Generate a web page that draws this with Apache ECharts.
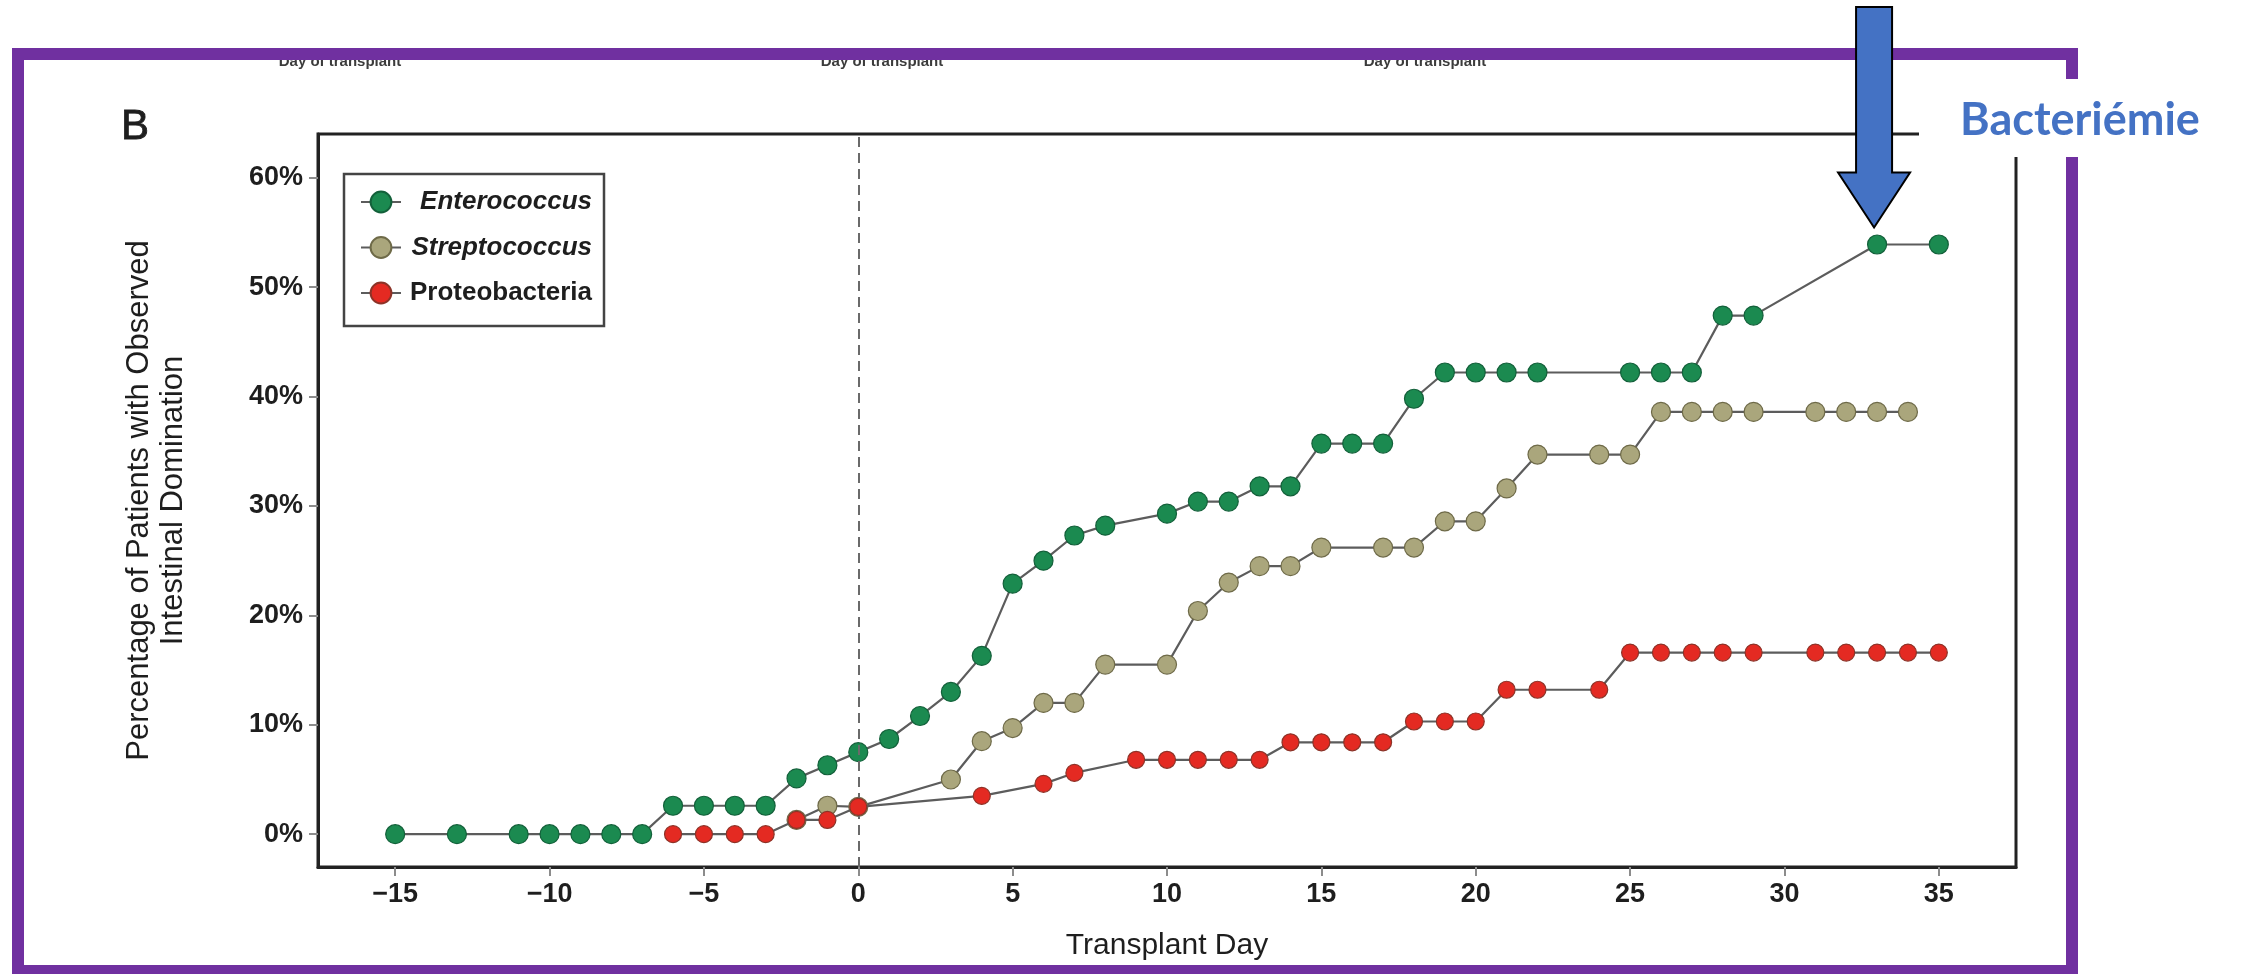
<!DOCTYPE html>
<html>
<head>
<meta charset="utf-8">
<script src="https://cdn.jsdelivr.net/npm/echarts@6/dist/echarts.min.js"></script>
<style>
  html, body { margin: 0; padding: 0; background: #ffffff; }
  #chart { width: 2246px; height: 974px; }
</style>
</head>
<body>
<div id="chart"></div>
<script>
// Tick positions
const xTicks = [-15, -10, -5, 0, 5, 10, 15, 20, 25, 30, 35];
const yTicks = [0, 10, 20, 30, 40, 50, 60];

// Cumulative percentage of patients with observed intestinal domination, by transplant day
const enteroDays = [-15, -13, -11, -10, -9, -8, -7, -6, -5, -4, -3, -2, -1, 0, 1, 2, 3, 4, 5, 6, 7, 8,
  10, 11, 12, 13, 14, 15, 16, 17, 18, 19, 20, 21, 22, 25, 26, 27, 28, 29, 33, 35];
const enteroPct = [0, 0, 0, 0, 0, 0, 0, 2.6, 2.6, 2.6, 2.6, 5.1, 6.3, 7.5, 8.7, 10.8, 13.0, 16.3, 22.9, 25.0, 27.3, 28.2,
  29.3, 30.4, 30.4, 31.8, 31.8, 35.7, 35.7, 35.7, 39.8, 42.2, 42.2, 42.2, 42.2, 42.2, 42.2, 42.2, 47.4, 47.4, 53.9, 53.9];

const streptoDays = [-2, -1, 0, 3, 4, 5, 6, 7, 8, 10, 11, 12, 13, 14, 15, 17, 18, 19, 20, 21, 22,
  24, 25, 26, 27, 28, 29, 31, 32, 33, 34];
const streptoPct = [1.3, 2.6, 2.5, 5.0, 8.5, 9.7, 12.0, 12.0, 15.5, 15.5, 20.4, 23.0, 24.5, 24.5, 26.2, 26.2, 26.2, 28.6, 28.6, 31.6, 34.7,
  34.7, 34.7, 38.6, 38.6, 38.6, 38.6, 38.6, 38.6, 38.6, 38.6];

const proteoDays = [-6, -5, -4, -3, -2, -1, 0, 4, 6, 7, 9, 10, 11, 12, 13, 14, 15, 16, 17, 18, 19, 20, 21, 22,
  24, 25, 26, 27, 28, 29, 31, 32, 33, 34, 35];
const proteoPct = [0, 0, 0, 0, 1.3, 1.3, 2.5, 3.5, 4.6, 5.6, 6.8, 6.8, 6.8, 6.8, 6.8, 8.4, 8.4, 8.4, 8.4, 10.3, 10.3, 10.3, 13.2, 13.2,
  13.2, 16.6, 16.6, 16.6, 16.6, 16.6, 16.6, 16.6, 16.6, 16.6, 16.6];

// Day of the bacteraemia event pointed at by the arrow
const bacteremiaDay = 33;

const FONT = '"Liberation Sans", Arial, Helvetica, sans-serif';

function pairs(days, pct) {
  return days.map((d, i) => [d, pct[i]]);
}

function lineSeries(name, days, pct, fill, edge, size) {
  return {
    name: name,
    type: 'line',
    data: pairs(days, pct),
    symbol: 'circle',
    symbolSize: size,
    lineStyle: { color: '#5c5c5c', width: 2.2 },
    itemStyle: { color: fill, borderColor: edge, borderWidth: 1.2 },
    emphasis: { disabled: true },
    silent: true
  };
}

const chart = echarts.init(document.getElementById('chart'), null, { renderer: 'canvas' });

const entero = lineSeries('Enterococcus', enteroDays, enteroPct, '#1b8a50', '#13603a', 19);
entero.markLine = {
  silent: true,
  symbol: 'none',
  label: { show: false },
  lineStyle: { color: '#6a6a6a', type: [10, 6], width: 2 },
  data: [{ xAxis: 0 }]
};
entero.z = 3;
const strepto = lineSeries('Streptococcus', streptoDays, streptoPct, '#aaa67c', '#6e6a48', 19);
strepto.z = 4;
const proteo = lineSeries('Proteobacteria', proteoDays, proteoPct, '#e42a22', '#8c3328', 17);
proteo.z = 5;

const legendFont = { fontFamily: FONT, fontSize: 26, fontWeight: 'bold', color: '#1e1e1e', width: 186, align: 'right' };

const axisLine = { show: true, onZero: false, lineStyle: { color: '#222222', width: 3 } };
const tickStyle = { color: '#8c8c8c', width: 2 };

const option = {
  animation: false,
  backgroundColor: '#ffffff',
  grid: {
    left: 318, top: 134, width: 1698, height: 733,
    show: true, borderColor: '#222222', borderWidth: 3, backgroundColor: 'transparent',
    containLabel: false, outerBoundsMode: 'none'
  },
  legend: {
    orient: 'vertical',
    left: 344, top: 174,
    backgroundColor: '#ffffff',
    borderColor: '#444444', borderWidth: 2.5, borderRadius: 0,
    padding: [15, 12, 20, 16],
    itemGap: 19.5,
    itemWidth: 40, itemHeight: 26,
    selectedMode: false,
    data: ['Enterococcus', 'Streptococcus', 'Proteobacteria'],
    formatter: function (name) {
      return name === 'Proteobacteria' ? '{up|' + name + '}' : '{it|' + name + '}';
    },
    textStyle: {
      fontFamily: FONT, fontSize: 26, fontWeight: 'bold', color: '#1e1e1e',
      rich: {
        it: Object.assign({ fontStyle: 'italic' }, legendFont),
        up: Object.assign({ fontStyle: 'normal' }, legendFont)
      }
    }
  },
  xAxis: {
    type: 'value',
    min: -17.5, max: 37.5,
    name: 'Transplant Day',
    nameLocation: 'middle',
    nameGap: 64,
    nameTextStyle: { fontFamily: FONT, fontSize: 30, color: '#1e1e1e' },
    axisLine: axisLine,
    axisTick: { show: true, customValues: xTicks, length: 9, lineStyle: tickStyle },
    axisLabel: {
      customValues: xTicks,
      formatter: function (v) { return String(v).replace('-', '\u2212'); },
      fontFamily: FONT, fontSize: 27, fontWeight: 'bold', color: '#1e1e1e', margin: 14
    },
    splitLine: { show: false }
  },
  yAxis: {
    type: 'value',
    min: -3, max: 64,
    name: 'Percentage of Patients with Observed\nIntestinal Domination',
    nameLocation: 'middle',
    nameRotate: 90,
    nameGap: 128,
    nameTextStyle: { fontFamily: FONT, fontSize: 31, lineHeight: 34, color: '#1e1e1e', align: 'center' },
    axisLine: axisLine,
    axisTick: { show: true, customValues: yTicks, length: 9, lineStyle: tickStyle },
    axisLabel: {
      customValues: yTicks,
      formatter: function (v) { return v + '%'; },
      fontFamily: FONT, fontSize: 27, fontWeight: 'bold', color: '#1e1e1e', margin: 15
    },
    splitLine: { show: false }
  },
  series: [entero, strepto, proteo]
};

chart.setOption(option);

// Arrow anchored on the Enterococcus point of the bacteraemia day
const arrowPct = enteroPct[enteroDays.indexOf(bacteremiaDay)];
const p = chart.convertToPixel({ gridIndex: 0 }, [bacteremiaDay, arrowPct]);
const tipX = p[0] - 3;
const tipY = p[1] - 17;

// Captions of the panel above, cut off by the frame
const topLabels = [340, 882, 1425].map(function (cx) {
  return {
    type: 'text', z: 40,
    style: { x: cx, y: 62, text: 'Day of transplant', font: 'bold 15px ' + FONT, fill: '#3c3c3c', align: 'center', verticalAlign: 'middle' }
  };
});

chart.setOption({
  graphic: topLabels.concat([
    {
      type: 'text', z: 40,
      style: { x: 121, y: 106, text: 'B', font: '42px ' + FONT, fill: '#1e1e1e', align: 'left', verticalAlign: 'top', stroke: '#1e1e1e', lineWidth: 0.8 }
    },
    {
      type: 'rect', z: 50,
      shape: { x: 18, y: 54, width: 2054, height: 917 },
      style: { fill: 'none', stroke: '#7030a0', lineWidth: 12 }
    },
    {
      type: 'rect', z: 60,
      shape: { x: 1919, y: 79, width: 327, height: 78 },
      style: { fill: '#ffffff' }
    },
    {
      type: 'text', z: 61,
      style: { x: 2080, y: 120, text: 'Bacteriémie', font: 'bold 45px Lato, "Open Sans", sans-serif', fill: '#4472c4', align: 'center', verticalAlign: 'middle' }
    },
    {
      type: 'polygon', z: 70,
      shape: {
        points: [
          [tipX - 18, 7], [tipX + 18, 7], [tipX + 18, tipY - 55], [tipX + 36, tipY - 55],
          [tipX, tipY], [tipX - 36, tipY - 55], [tipX - 18, tipY - 55]
        ]
      },
      style: { fill: '#4472c4', stroke: '#000000', lineWidth: 2 }
    }
  ])
});
</script>
</body>
</html>
